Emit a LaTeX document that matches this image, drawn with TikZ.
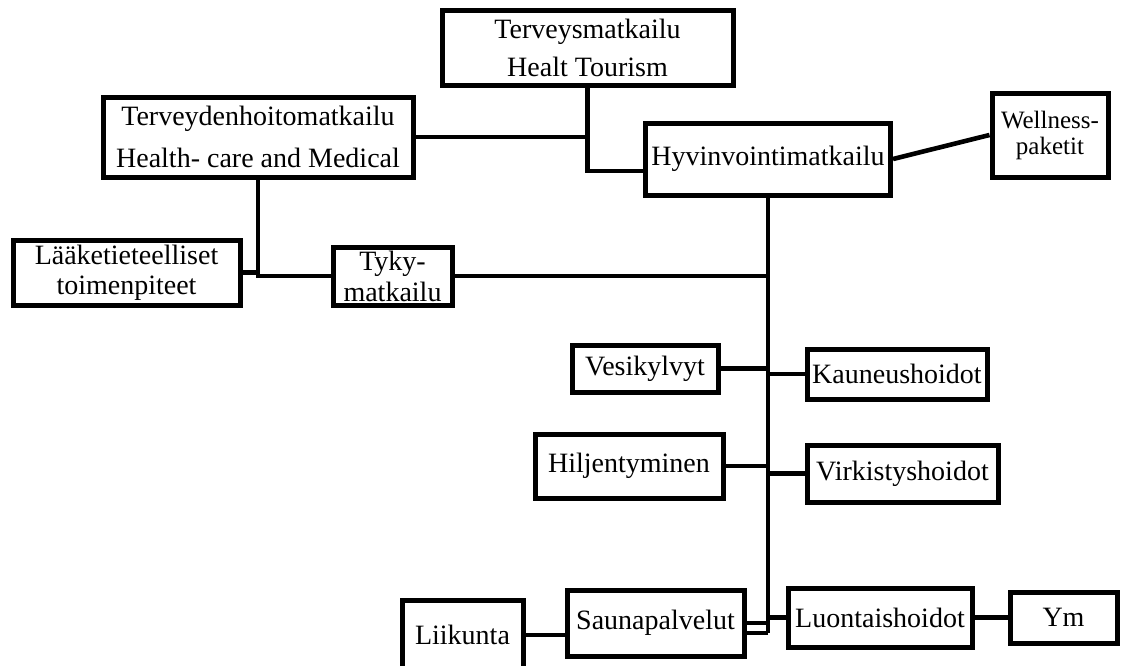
\documentclass[tikz,border=0pt]{standalone}
\usepackage{fontspec}
\setmainfont{Liberation Serif}
\usetikzlibrary{positioning,calc}

\begin{document}
\begin{tikzpicture}[x=0.5pt, y=-0.5pt]
    \tikzstyle{box} = [rectangle, draw, line width=2.5pt, inner sep=0pt, align=center, font=\fontsize{14}{16}\selectfont]
    \tikzstyle{line} = [draw, line width=2.3pt]
    \tikzstyle{thinline} = [draw, line width=1.6pt]

    \useasboundingbox (0,0) rectangle (1125,665);

    \node [box, minimum width=145.5pt, minimum height=37.5pt, font=\fontsize{14}{19}\selectfont] (tervmat) at (587.5,47.5) {Terveysmatkailu\\Healt Tourism};
    \node [box, minimum width=155pt, minimum height=40pt, font=\fontsize{14}{21}\selectfont] (tervhoito) at (258,137) {Terveydenhoitomatkailu\\Health- care and Medical};
    \node [box, minimum width=122.5pt, minimum height=36pt] (hyvin) at (768,159) {Hyvinvointimatkailu};
    \node [box, minimum width=58pt, minimum height=42pt, font=\fontsize{12.5}{13}\selectfont] (wellness) at (1050,135) {Wellness-\\paketit};
    \node [box, minimum width=113.5pt, minimum height=32.5pt, font=\fontsize{14}{15}\selectfont] (laake) at (126.5,272.5) {Lääketieteelliset\\toimenpiteet};
    \node [box, minimum width=59.5pt, minimum height=29pt, font=\fontsize{14}{15.5}\selectfont] (tyky) at (392.5,276) {Tyky-\\matkailu};
    \node [box, minimum width=73pt, minimum height=23.5pt] (vesi) at (645,368.5) {Vesikylvyt};
    \node [box, minimum width=90pt, minimum height=25pt] (kaun) at (897,374) {Kauneushoidot};
    \node [box, minimum width=94pt, minimum height=32pt] (hilj) at (629,466) {Hiljentyminen};
    \node [box, minimum width=95.5pt, minimum height=28.5pt] (virk) at (902.5,473.5) {Virkistyshoidot};
    \node [box, minimum width=60.5pt, minimum height=35pt] (liik) at (462.5,635) {Liikunta};
    \node [box, minimum width=88.5pt, minimum height=33pt] (sauna) at (655.5,623) {Saunapalvelut};
    \node [box, minimum width=92pt, minimum height=29.5pt] (luont) at (880,617.5) {Luontaishoidot};
    \node [box, minimum width=53.5pt, minimum height=25.5pt] (ym) at (1063.5,617.5) {Ym};

    \coordinate (trunk) at (768,633);

    \path [line] (tervmat.south) |- ([yshift=-6pt]hyvin.west);
    \path [line] (tervhoito.east) -- (tervhoito.east -| tervmat.south);
    \path [line] (hyvin.east) -- (wellness.west);
    \path [line] (hyvin.south) -- (trunk);
    \path [line] (tervhoito.south) |- (tyky.west);
    \path [line] (laake.east) -- (laake.east -| tervhoito.south);
    \path [line] (tyky.east) -- (tyky.east -| trunk);
    \path [line] (vesi.east) -- (vesi.east -| trunk);
    \path [line] (kaun.west) -- (kaun.west -| trunk);
    \path [line] (hilj.east) -- (hilj.east -| trunk);
    \path [line] (virk.west) -- (virk.west -| trunk);
    \path [line] (luont.west) -- (luont.west -| trunk);
    \path [line] (sauna.east) -- (sauna.east -| trunk);
    \path [thinline] (trunk) -- (trunk -| sauna.east);
    \path [thinline] (liik.east) -- (liik.east -| sauna.west);
    \path [line] (luont.east) -- (ym.west);
\end{tikzpicture}
\end{document}
